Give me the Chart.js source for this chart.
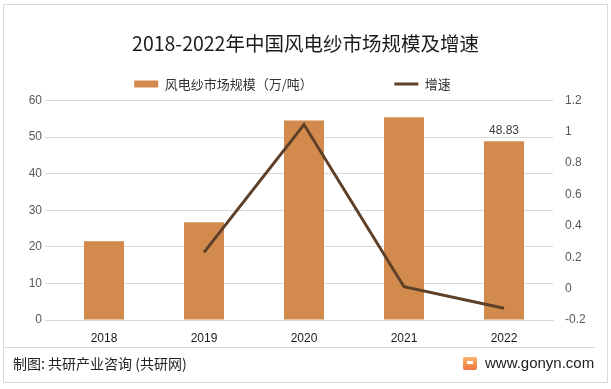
<!DOCTYPE html>
<html><head><meta charset="utf-8">
<script src="https://cdn.jsdelivr.net/npm/chart.js@4.4.1/dist/chart.umd.min.js"></script>
<style>
html,body{margin:0;padding:0;background:#fff;}
#wrap{position:relative;width:611px;height:389px;overflow:hidden;background:#fff;}
#c{position:absolute;left:0;top:0;}
.frame{position:absolute;left:3px;top:4px;width:605px;height:379px;border:1px solid #d9d9d9;box-sizing:border-box;pointer-events:none;}
.sep{position:absolute;left:4px;top:347px;width:591px;height:1px;background:#d9d9d9;}
.src{position:absolute;left:13px;top:353px;font:14px "Noto Sans CJK SC",sans-serif;color:#222;line-height:20px;white-space:nowrap;}
.site{position:absolute;left:485px;top:353px;font:15px "Liberation Sans",Arial,sans-serif;color:#222;line-height:20px;white-space:nowrap;}
.logo{position:absolute;left:463px;top:357px;width:14px;height:13px;border-radius:2px;background:linear-gradient(180deg,#f9b46a,#f0743f);}
.logo:after{content:"";position:absolute;left:4px;top:4px;width:6px;height:3px;background:#fff;}
</style></head>
<body>
<div id="wrap">
<canvas id="c" width="611" height="389"></canvas>
<div class="frame"></div>
<div class="sep"></div>
<div class="src">制图: 共研产业咨询 (共研网)</div>
<div class="logo"></div>
<div class="site">www.gonyn.com</div>
</div>
<script>
const titleText = '2018-2022年中国风电纱市场规模及增速';
const years = [2018, 2019, 2020, 2021, 2022];
const marketSize = [21.5, 26.7, 54.5, 55.4, 48.83];
const growthRate = [null, 0.231, 1.046, 0.012, -0.125];
const sizeLabel = '风电纱市场规模（万/吨）';
const growthLabel = '增速';
const leftTicks = [0, 10, 20, 30, 40, 50, 60];
const rightTicks = [-0.2, 0, 0.2, 0.4, 0.6, 0.8, 1, 1.2];

const BAR = '#D38B4D';
const LINE = '#5E4029';

const lastLabelPlugin = {
  id: 'lastLabel',
  afterDatasetsDraw(chart) {
    const meta = chart.getDatasetMeta(0);
    const i = marketSize.length - 1;
    const el = meta.data[i];
    const ctx = chart.ctx;
    ctx.save();
    ctx.font = '12px "Liberation Sans", Arial, sans-serif';
    ctx.fillStyle = '#404040';
    ctx.textAlign = 'center';
    ctx.textBaseline = 'bottom';
    ctx.fillText(String(marketSize[i]), el.x, el.y - 5);
    ctx.restore();
  }
};

new Chart(document.getElementById('c'), {
  type: 'bar',
  data: {
    datasets: [
      {
        type: 'bar',
        label: sizeLabel,
        data: years.map((y, i) => ({x: y, y: marketSize[i]})),
        backgroundColor: BAR,
        borderWidth: 0,
        barPercentage: 0.4,
        categoryPercentage: 1,
        yAxisID: 'y',
        order: 1
      },
      {
        type: 'line',
        label: growthLabel,
        data: years.map((y, i) => ({x: y, y: growthRate[i]})),
        borderColor: LINE,
        backgroundColor: LINE,
        borderWidth: 3,
        pointRadius: 0,
        tension: 0,
        spanGaps: false,
        yAxisID: 'y1',
        order: 0
      }
    ]
  },
  options: {
    responsive: false,
    animation: false,
    devicePixelRatio: 1,
    layout: {padding: {top: 0, left: 0, right: 0, bottom: 39}},
    plugins: {
      tooltip: {enabled: false},
      title: {
        display: true,
        text: titleText,
        color: '#1a1a1a',
        font: {family: '"Noto Sans CJK SC", sans-serif', size: 19.5, weight: 'normal'},
        padding: {top: 32, bottom: 12}
      },
      legend: {
        display: true,
        labels: {
          color: '#333',
          font: {family: '"Noto Sans CJK SC", sans-serif', size: 13},
          usePointStyle: true,
          pointStyleWidth: 24,
          boxHeight: 7,
          padding: 10,
          generateLabels(chart) {
            return [
              {text: sizeLabel + '\u3000\u3000\u3000\u3000\u3000\u3000', fillStyle: BAR, strokeStyle: BAR, lineWidth: 0, pointStyle: 'rect', datasetIndex: 0, hidden: false, fontColor: '#333'},
              {text: growthLabel + '\u3000\u3000', fillStyle: LINE, strokeStyle: LINE, lineWidth: 3, pointStyle: 'line', datasetIndex: 1, hidden: false, fontColor: '#333'}
            ];
          }
        }
      }
    },
    scales: {
      x: {
        type: 'linear',
        offset: false,
        min: years[0] - 0.59,
        max: years[years.length - 1] + 0.49,
        bounds: 'data',
        afterBuildTicks(scale) { scale.ticks = years.map(v => ({value: v})); },
        ticks: {
          callback: (v) => String(v),
          color: '#1a1a1a',
          font: {family: '"Liberation Sans", Arial, sans-serif', size: 12},
          padding: 11,
          maxRotation: 0,
          autoSkip: false
        },
        grid: {display: false, drawTicks: false, offset: false},
        border: {display: true, color: '#d9d9d9', width: 1},
        afterFit(scale) { scale.height = 30; }
      },
      y: {
        position: 'left',
        min: 0, max: 60,
        afterBuildTicks(scale) { scale.ticks = leftTicks.map(v => ({value: v})); },
        ticks: {
          color: '#595959',
          font: {family: '"Liberation Sans", Arial, sans-serif', size: 12},
          padding: 3
        },
        grid: {color: '#d9d9d9', drawTicks: false},
        border: {display: false},
        afterFit(scale) { scale.width = 45; }
      },
      y1: {
        position: 'right',
        min: -0.2, max: 1.2,
        afterBuildTicks(scale) { scale.ticks = rightTicks.map(v => ({value: v})); },
        ticks: {
          color: '#595959',
          font: {family: '"Liberation Sans", Arial, sans-serif', size: 12},
          padding: 12,
          callback: (v) => String(Math.round(v * 10) / 10)
        },
        grid: {display: false, drawTicks: false},
        border: {display: false},
        afterFit(scale) { scale.width = 58; }
      }
    }
  },
  plugins: [lastLabelPlugin]
});
</script>
</body></html>
